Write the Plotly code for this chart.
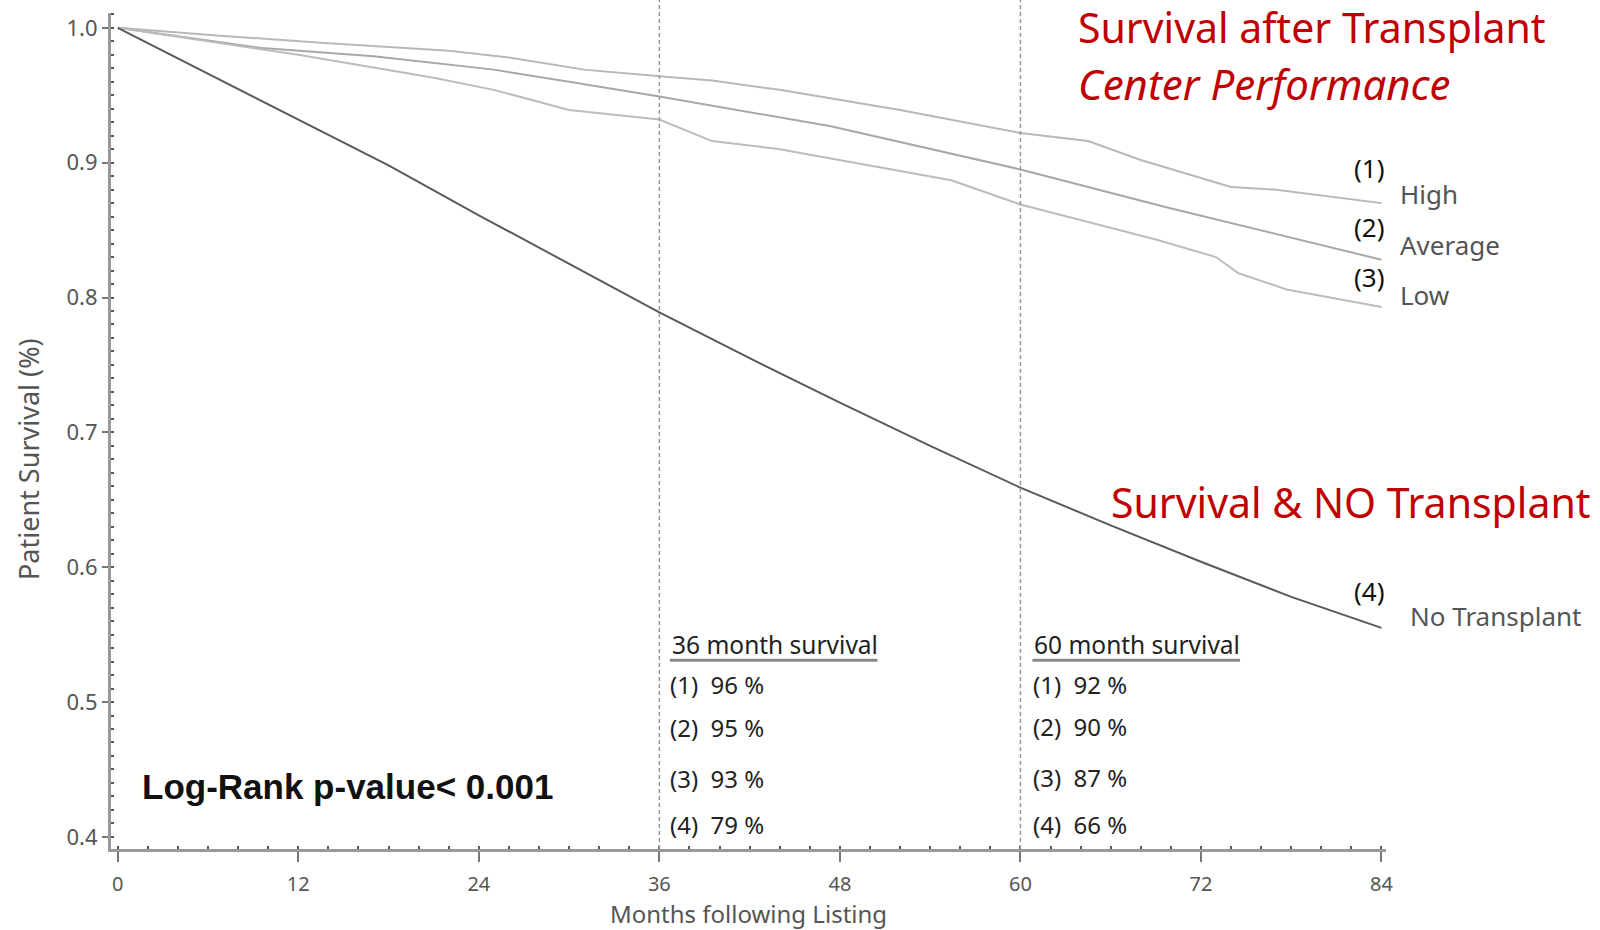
import plotly.graph_objects as go

# ---------------- data ----------------
months_high = [0, 7, 13.5, 22, 26, 31, 36, 39.5, 44, 52, 60, 64.5, 68, 74, 77, 84]
surv_high = [1.0, 0.994, 0.989, 0.983, 0.978, 0.969, 0.964, 0.961, 0.954, 0.939, 0.922, 0.916, 0.902, 0.882, 0.880, 0.870]

months_avg = [0, 9.6, 17, 25, 30, 36, 47.4, 60, 69.7, 76, 84]
surv_avg = [1.0, 0.985, 0.979, 0.969, 0.960, 0.949, 0.927, 0.895, 0.867, 0.850, 0.828]

months_low = [0, 12, 21, 25, 30, 36, 39.5, 44, 55.4, 60, 69, 73, 74.5, 77.7, 84]
surv_low = [1.0, 0.980, 0.963, 0.954, 0.939, 0.932, 0.916, 0.910, 0.887, 0.869, 0.843, 0.830, 0.818, 0.806, 0.793]

months_none = [0, 6, 12, 18, 24, 30, 36, 42, 48, 54, 60, 66, 72, 78, 84]
surv_none = [1.0, 0.966, 0.932, 0.898, 0.861, 0.825, 0.789, 0.755, 0.722, 0.690, 0.659, 0.631, 0.604, 0.578, 0.555]

group_nums = ["(1)", "(2)", "(3)", "(4)"]
group_names = ["High", "Average", "Low", "No Transplant"]
surv_36 = [96, 95, 93, 79]
surv_60 = [92, 90, 87, 66]
x_ticks = [0, 12, 24, 36, 48, 60, 72, 84]
y_ticks = [0.4, 0.5, 0.6, 0.7, 0.8, 0.9, 1.0]
marker_months = [36, 60]

# ---------------- figure ----------------
fig = go.Figure()
series = [
    (months_high, surv_high, "#b8b8b8", 2),
    (months_avg, surv_avg, "#a8a8a8", 2),
    (months_low, surv_low, "#bcbcbc", 2),
    (months_none, surv_none, "#5a5a5a", 2),
]
for xs, ys, col, w in series:
    fig.add_trace(go.Scatter(x=xs, y=ys, mode="lines", line=dict(color=col, width=w),
                             showlegend=False, hoverinfo="skip"))

for m in marker_months:
    fig.add_shape(type="line", xref="x", yref="paper", x0=m, x1=m, y0=0, y1=1.016,
                  line=dict(color="#999999", width=1.5, dash="4px,3px"))

RED = "#C00000"
ann = []
ann.append(dict(x=63.7, y=1.0007, text="Survival after Transplant", xanchor="left", yanchor="middle",
                font=dict(size=41, color=RED, family="Noto Sans")))
ann.append(dict(x=63.7, y=0.959, text="<i>Center Performance</i>", xanchor="left", yanchor="middle",
                font=dict(size=42, color=RED, family="Noto Sans")))
ann.append(dict(x=65.9, y=0.648, text="Survival & NO Transplant", xanchor="left", yanchor="middle",
                font=dict(size=41, color=RED, family="Noto Sans")))

num_y = [0.896, 0.852, 0.815, 0.582]
name_y = [0.877, 0.839, 0.802, 0.564]
name_xp = [1.0094, 1.0094, 1.0094, 1.0173]
for i in range(4):
    ann.append(dict(x=83.2, y=num_y[i], text=group_nums[i], xanchor="center", yanchor="middle",
                    font=dict(size=26, color="#111111", family="Noto Sans")))
    ann.append(dict(x=name_xp[i], xref="paper", y=name_y[i], text=group_names[i], xanchor="left",
                    yanchor="middle", font=dict(size=26, color="#555555", family="Noto Sans")))

row_y36 = [0.513, 0.481, 0.443, 0.409]
row_y60 = [0.513, 0.482, 0.444, 0.409]
for hx, months, vals, rys in [(36.7, 36, surv_36, row_y36), (60.8, 60, surv_60, row_y60)]:
    ann.append(dict(x=hx, y=0.543, text=f"{months} month survival", xanchor="left", yanchor="middle",
                    font=dict(size=24.5, color="#222222", family="Noto Sans")))
    for i in range(4):
        ann.append(dict(x=hx - 0.1, y=rys[i], text=f"{group_nums[i]}  {vals[i]} %", xanchor="left",
                        yanchor="middle", font=dict(size=24, color="#222222", family="Noto Sans")))
    fig.add_shape(type="line", xref="x", yref="y", x0=hx, x1=hx + 13.8, y0=0.531, y1=0.531,
                  line=dict(color="#888888", width=3))

ann.append(dict(x=1.45, y=0.4377, text="<b>Log-Rank p-value< 0.001</b>", xanchor="left", yanchor="middle",
                font=dict(size=35, color="#111111", family="Liberation Sans")))

# y axis title placed as rotated text
ann.append(dict(x=-0.0651, xref="paper", y=0.4665, yref="paper", text="Patient Survival (%)",
                textangle=-90, xanchor="center", yanchor="middle",
                font=dict(size=27, color="#555555", family="Noto Sans")))

for a in ann:
    a.setdefault("xref", "x")
    a.setdefault("yref", "y")
    a["showarrow"] = False
fig.update_layout(annotations=ann)

fig.update_layout(
    width=1600, height=930,
    margin=dict(l=111, r=214, t=13, b=81, pad=0, autoexpand=False),
    paper_bgcolor="white", plot_bgcolor="white",
    font=dict(family="Noto Sans", color="#555555"),
)
fig.update_xaxes(
    range=[-0.45, 84.3], tickmode="array", tickvals=x_ticks, ticktext=[str(v) for v in x_ticks],
    ticks="outside", ticklen=10, tickwidth=2, tickcolor="#777777", automargin=False,
    showline=True, linecolor="#999999", linewidth=3, showgrid=False, zeroline=False,
    tickfont=dict(size=20, color="#555555"), ticklabelstandoff=5,
    minor=dict(dtick=2, tick0=0, ticks="inside", ticklen=3, tickwidth=2, tickcolor="#555555", showgrid=False),
    title=dict(text="Months following Listing", font=dict(size=24, color="#555555"), standoff=8),
)
fig.update_yaxes(
    range=[0.391, 1.011], tickmode="array", tickvals=y_ticks, ticktext=[f"{v:.1f}" for v in y_ticks],
    ticks="outside", ticklen=6, tickwidth=2, tickcolor="#777777", automargin=False,
    showline=True, linecolor="#999999", linewidth=3, showgrid=False, zeroline=False,
    tickfont=dict(size=22, color="#555555"),
    minor=dict(dtick=0.01, tick0=0, ticks="inside", ticklen=3, tickwidth=2, tickcolor="#555555", showgrid=False),
)

fig.write_html("out.html")
